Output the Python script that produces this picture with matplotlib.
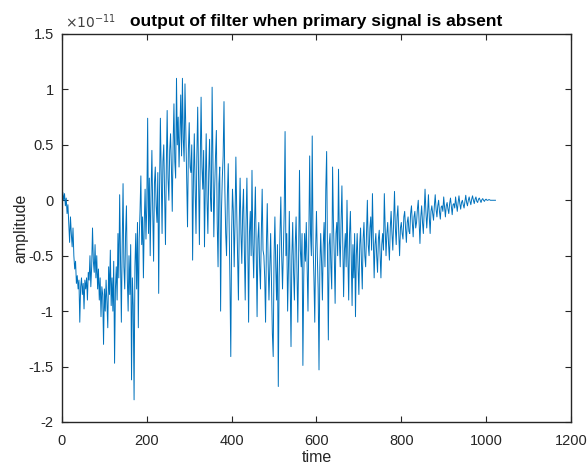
import numpy as np
import matplotlib
matplotlib.use("Agg")
import matplotlib.pyplot as plt

# filter output, in units of 1e-11, one value every 2 time steps
step = 2
amp = [
    # 0 - 62
    0.03, 0.07, 0.0, 0.06, -0.05, 0.02, -0.12, -0.04, -0.2, -0.38, -0.15, -0.3, -0.42, -0.25, -0.5, -0.62,
    -0.55, -0.75, -0.68, -0.8, -0.72, -1.1, -0.78, -0.7, -0.85, -0.75, -0.98, -0.72, -0.8, -0.7, -0.9, -0.65,
    # 64 - 126
    -0.72, -0.5, -0.78, -0.6, -0.25, -0.55, -0.65, -0.4, -0.7, -0.5, -0.8, -0.62, -0.9, -0.7, -1.05, -0.78,
    -0.85, -1.3, -0.8, -1.0, -0.72, -0.92, -1.15, -0.6, -0.85, -0.45, -0.95, -0.7, -1.0, -0.55, -1.47, -0.8,
    # 128 - 190
    -0.6, -0.9, -0.3, -0.7, 0.05, -0.5, -1.1, -0.4, 0.15, -0.6, -0.8, -0.3, -0.05, -0.7, -1.0, -0.5,
    -0.85, -0.4, -1.62, -0.7, -0.95, -1.8, -0.6, -0.3, -0.8, -0.2, -1.15, -0.35, -0.1, 0.22, -0.4, -0.15,
    # 192 - 254
    -0.7, -0.2, 0.1, -0.35, -0.05, 0.74, -0.3, 0.2, -0.5, 0.05, 0.45, -0.1, -0.55, 0.15, 0.3, -0.05,
    -0.2, 0.25, -0.84, 0.1, 0.74, 0.2, -0.3, 0.35, 0.5, 0.05, -0.4, 0.3, 0.81, 0.2, 0.0, 0.45,
    # 256 - 318
    0.6, 0.3, -0.1, 0.5, 0.87, 0.35, 0.2, 1.1, 0.5, 0.75, 0.3, 0.6, 0.95, 0.4, 1.1, 0.55,
    0.35, 1.05, 0.6, 0.2, -0.24, 0.45, 0.7, 0.3, 0.25, 0.5, -0.54, 0.2, 0.6, 0.1, -0.3, 0.4,
    # 320 - 382
    0.84, 0.2, -0.4, 0.35, 0.93, 0.3, 0.1, 0.45, -0.42, 0.15, 0.6, 0.0, -0.3, 0.25, 0.55, 0.05,
    -0.1, 1.02, 0.3, -0.33, 0.1, 0.4, 0.63, -0.2, -0.6, 0.15, 0.3, -1.0, -0.1, 0.2, 0.4, 0.89,
    # 384 - 446
    0.1, -0.3, -0.5, 0.05, 0.33, -0.2, -0.72, -1.41, -0.3, 0.1, -0.1, -0.6, -0.2, 0.39, -0.1, -0.5,
    -0.9, -0.2, 0.2, -0.3, -0.57, -0.1, 0.1, -0.45, -0.9, -0.2, 0.2, -0.35, -1.1, -0.3, -0.1, -0.5,
    # 448 - 510
    0.27, -0.4, -0.7, -0.2, 0.12, -0.5, -1.05, -0.35, -0.2, -0.6, -0.8, -0.3, 0.1, -0.45, -0.5, -0.7,
    -1.1, -0.4, -0.03, -0.55, -0.9, -0.6, -0.3, -0.75, -1.2, -1.41, -0.5, -0.15, -0.6, -0.9, -0.4, -1.68,
    # 512 - 574
    -0.7, -0.3, 0.03, -0.5, -0.8, -0.45, -0.1, 0.62, -0.5, -0.3, -1.0, -0.6, -0.1, -0.7, -1.32, -0.5,
    -0.2, -0.65, -0.9, -0.4, -0.15, -0.6, -1.1, -0.5, 0.27, -0.45, -0.6, -0.3, -1.49, -0.7, -0.3, -0.55,
    # 576 - 638
    -0.2, -0.6, -1.0, -0.35, 0.4, -0.3, -0.5, 0.58, -0.4, -0.7, -1.1, -0.45, -0.1, -0.5, -0.8, -1.53,
    -0.6, -0.3, -0.55, -0.9, -0.4, -0.2, -0.6, 0.1, 0.44, -0.5, -1.26, -0.4, -0.3, -0.6, -0.8, 0.3,
    # 640 - 702
    -0.2, -0.5, -0.93, -0.3, -0.2, -0.5, 0.28, -0.35, -0.6, -0.2, 0.13, -0.4, -0.87, -0.45, -0.3, -0.6,
    0.0, -0.5, -0.9, -0.3, -0.1, -0.55, -0.95, -0.4, -0.7, -0.3, -1.05, -0.5, -0.3, -0.6, -0.85, -0.4,
    # 704 - 766
    -0.25, -0.55, -0.8, -0.35, -0.2, -0.5, -0.6, -0.3, 0.0, -0.4, -0.5, -0.25, -0.15, -0.45, 0.06, -0.35,
    -0.7, -0.4, -0.3, -0.5, -0.65, -0.35, -0.27, -0.5, -0.7, -0.4, -0.3, -0.45, 0.06, -0.25, -0.5, -0.3,
    # 768 - 830
    -0.2, -0.4, -0.54, -0.25, -0.1, -0.3, -0.45, -0.2, 0.08, -0.25, -0.4, -0.15, -0.05, -0.3, -0.5, -0.25,
    -0.2, -0.3, -0.35, -0.15, -0.1, -0.25, -0.38, -0.2, -0.15, -0.28, -0.3, -0.12, -0.05, -0.2, -0.33, -0.15,
    # 832 - 894
    -0.1, -0.25, -0.2, -0.08, 0.0, -0.2, -0.39, -0.15, -0.05, -0.2, -0.3, -0.1, 0.1, -0.1, -0.25, -0.12,
    0.05, -0.15, -0.3, -0.1, -0.05, -0.12, -0.18, -0.05, 0.05, -0.08, -0.15, -0.05, 0.0, -0.1, -0.17, -0.06,
    # 896 - 958
    -0.05, -0.1, 0.03, -0.06, -0.15, -0.05, -0.02, -0.08, -0.12, -0.03, 0.02, -0.06, -0.13, -0.04, -0.03, -0.07,
    0.03, -0.04, -0.1, -0.02, 0.04, -0.03, -0.08, -0.02, 0.0, -0.04, -0.07, -0.01, 0.045, -0.02, -0.05, 0.0,
    # 960 - 1022
    0.03, -0.01, -0.04, 0.01, 0.04, 0.0, -0.03, 0.01, 0.03, -0.01, -0.02, 0.01, 0.02, 0.0, -0.02, 0.005,
    0.015, 0.0, -0.01, 0.005, 0.01, 0.0, 0.0, 0.005, 0.005, 0.0, 0.0, 0.0, 0.0, 0.0, 0.0, 0.0,
]
t = np.arange(len(amp)) * step

xticks = [0, 200, 400, 600, 800, 1000, 1200]
yticks = [-2, -1.5, -1, -0.5, 0, 0.5, 1, 1.5]

plt.rcParams["font.family"] = ["Liberation Sans", "DejaVu Sans"]

fig = plt.figure(figsize=(5.88, 4.68), dpi=100)
ax = fig.add_axes([0.1054, 0.0983, 0.8656, 0.8291])
ax.plot(t, amp, color="#0072BD", linewidth=0.7)

ax.set_xlim(0, 1200)
ax.set_ylim(-2, 1.5)
ax.set_xticks(xticks)
ax.set_yticks(yticks)
ax.set_xticklabels([f"{v:g}" for v in xticks], fontsize=10.5, color="#262626")
ax.set_yticklabels([f"{v:g}" for v in yticks], fontsize=10.5, color="#262626")
ax.tick_params(direction="in", length=4, width=0.8, top=True, right=True, colors="#262626",
               labelcolor="#262626")
ax.tick_params(axis="x", pad=9)
ax.tick_params(axis="y", pad=6)
for s in ax.spines.values():
    s.set_linewidth(1.0)
    s.set_color("#262626")

ax.set_xlabel("time", fontsize=11.5, color="#262626", labelpad=1)
ax.set_ylabel("amplitude", fontsize=11.5, color="#262626", labelpad=0)
ax.set_title("output of filter when primary signal is absent", fontsize=12.5,
             fontweight="bold", color="black", pad=6)
ax.text(0.005, 1.008, r"$\times10^{-11}$", transform=ax.transAxes, fontsize=10,
        color="#404040", va="bottom", ha="left")

fig.savefig("out.png", dpi=100)
